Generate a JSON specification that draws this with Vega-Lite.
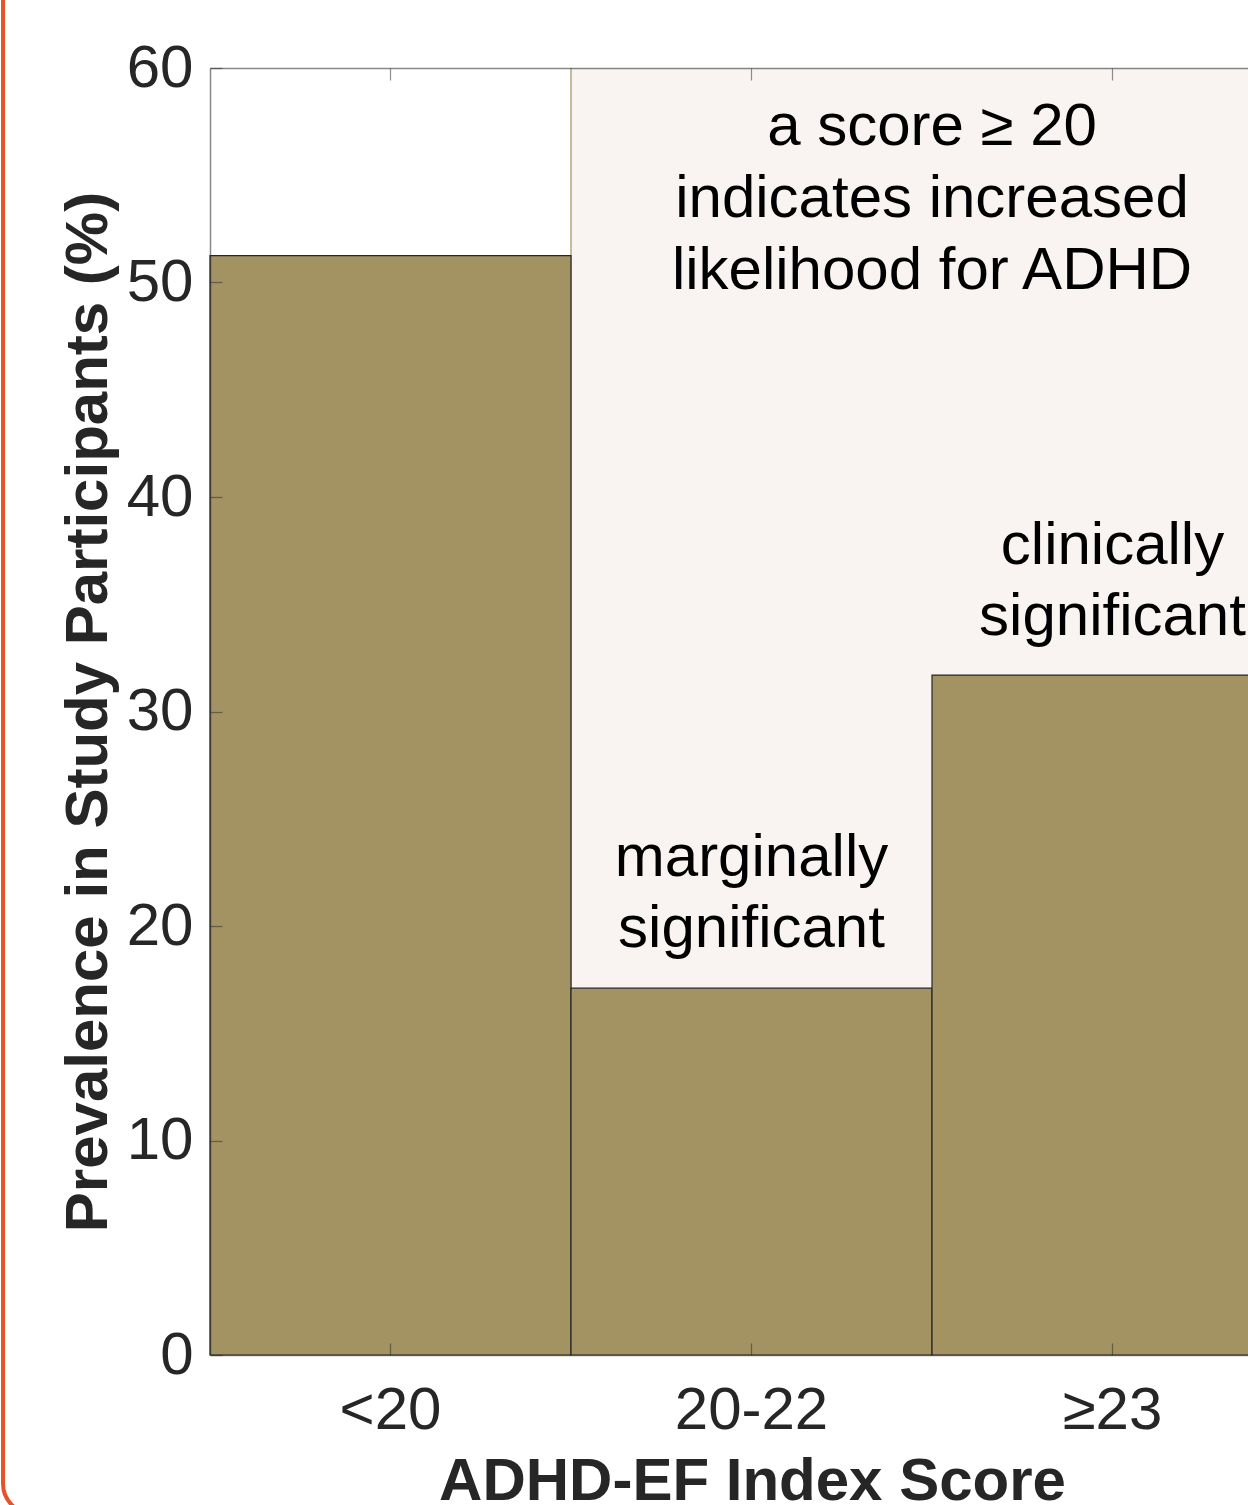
{
  "$schema": "https://vega.github.io/schema/vega-lite/v6.json",
  "width": 1038,
  "height": 1287,
  "autosize": {"type": "none"},
  "padding": {"left": 210, "top": 68, "right": 0, "bottom": 150},
  "background": "white",
  "config": {
    "view": {"stroke": null},
    "font": "Liberation Sans",
    "axis": {"labelFont": "Liberation Sans", "titleFont": "Liberation Sans"}
  },
  "datasets": {
    "bars": [
      {"score": "<20", "pct": 51.25},
      {"score": "20-22", "pct": 17.1},
      {"score": "≥23", "pct": 31.7}
    ],
    "region": [
      {"score": "20-22", "top": 60, "bottom": 0},
      {"score": "≥23", "top": 60, "bottom": 0}
    ],
    "edge": [{"score": "20-22", "top": 60, "bottom": 0}],
    "notes": [
      {"score": "20-22", "y": 22.33, "lines": ["marginally", "significant"]},
      {"score": "≥23", "y": 36.88, "lines": ["clinically", "significant"]}
    ],
    "threshold": [
      {"score": "≥23", "y": 56.41, "lines": ["a score ≥ 20", "indicates increased", "likelihood for ADHD"]}
    ],
    "frame": [{"left": -0.1994, "right": 1.5, "top": 65, "bottom": -7.4}]
  },
  "layer": [
    {
      "layer": [
        {
          "data": {"name": "region"},
          "mark": {"type": "bar", "fill": "#f9f4f2", "strokeWidth": 0},
          "encoding": {
            "x": {
              "field": "score", "type": "nominal",
              "scale": {"domain": ["<20", "20-22", "≥23"], "range": [0, 1083], "paddingInner": 0, "paddingOuter": 0},
              "axis": {
                "orient": "top", "labels": false, "title": null, "tickSize": -12,
                "tickColor": "#262626", "tickOpacity": 0.5, "domainColor": "#262626", "domainOpacity": 0.55,
                "tickWidth": 1.2, "domainWidth": 1.5, "zindex": 1
              }
            },
            "y": {
              "field": "top", "type": "quantitative", "scale": {"domain": [0, 60], "nice": false, "zero": true},
              "axis": {
                "orient": "left", "values": [0, 10, 20, 30, 40, 50, 60], "labelFontSize": 60, "labelColor": "#262626",
                "labelPadding": 29, "labelBaseline": "middle", "tickSize": -12, "grid": false,
                "tickColor": "#262626", "tickOpacity": 0.5, "domainColor": "#262626", "domainOpacity": 0.55,
                "tickWidth": 1.2, "domainWidth": 1.5, "zindex": 1,
                "title": "Prevalence in Study Participants (%)", "titleFontSize": 60, "titleFontWeight": "bold", "titleColor": "#262626",
                "titleX": -104, "titleY": 643.5, "titleAngle": 270, "titleAlign": "center", "titleBaseline": "alphabetic", "titleAnchor": "start"
              }
            },
            "y2": {"field": "bottom"}
          }
        },
        {
          "data": {"name": "edge"},
          "mark": {"type": "rule", "color": "#b5a77a", "strokeWidth": 1.5},
          "encoding": {
            "x": {"field": "score", "type": "nominal", "bandPosition": 0, "axis": null},
            "y": {"field": "top", "type": "quantitative"},
            "y2": {"field": "bottom"}
          }
        },
        {
          "data": {"name": "bars"},
          "mark": {"type": "bar", "fill": "#a39262", "stroke": "#262626", "strokeWidth": 1.2},
          "encoding": {
            "x": {
              "field": "score", "type": "nominal",
              "axis": {
                "orient": "bottom", "labelAngle": 0, "labelFontSize": 60, "labelColor": "#262626",
                "labelBaseline": "alphabetic", "labelPadding": 85, "tickSize": -12,
                "tickColor": "#262626", "tickOpacity": 0.5, "domainColor": "#262626", "domainOpacity": 0.55,
                "tickWidth": 1.2, "domainWidth": 1.5, "zindex": 1,
                "title": "ADHD-EF Index Score", "titleFontSize": 60, "titleFontWeight": "bold", "titleColor": "#262626",
                "titleX": 542, "titleY": 144, "titleAlign": "center", "titleBaseline": "alphabetic", "titleAnchor": "start"
              }
            },
            "y": {"field": "pct", "type": "quantitative"}
          }
        },
        {
          "data": {"name": "notes"},
          "mark": {"type": "text", "fontSize": 60, "color": "#000000", "align": "center", "baseline": "alphabetic", "lineHeight": 71},
          "encoding": {
            "x": {"field": "score", "type": "nominal", "axis": null},
            "y": {"field": "y", "type": "quantitative"},
            "text": {"field": "lines"}
          }
        },
        {
          "data": {"name": "threshold"},
          "mark": {"type": "text", "fontSize": 60, "color": "#000000", "align": "center", "baseline": "alphabetic", "lineHeight": 72},
          "encoding": {
            "x": {"field": "score", "type": "nominal", "bandPosition": 0, "axis": null},
            "y": {"field": "y", "type": "quantitative"},
            "text": {"field": "lines"}
          }
        }
      ],
      "resolve": {"axis": {"x": "independent"}}
    },
    {
      "data": {"name": "frame"},
      "mark": {"type": "rect", "fill": null, "stroke": "#e8522a", "strokeWidth": 4, "cornerRadius": 30},
      "encoding": {
        "x": {"field": "left", "type": "quantitative", "scale": {"domain": [0, 1], "nice": false, "zero": false}, "axis": null},
        "x2": {"field": "right"},
        "y": {"field": "top", "type": "quantitative"},
        "y2": {"field": "bottom"}
      }
    }
  ],
  "resolve": {"scale": {"x": "independent"}}
}
